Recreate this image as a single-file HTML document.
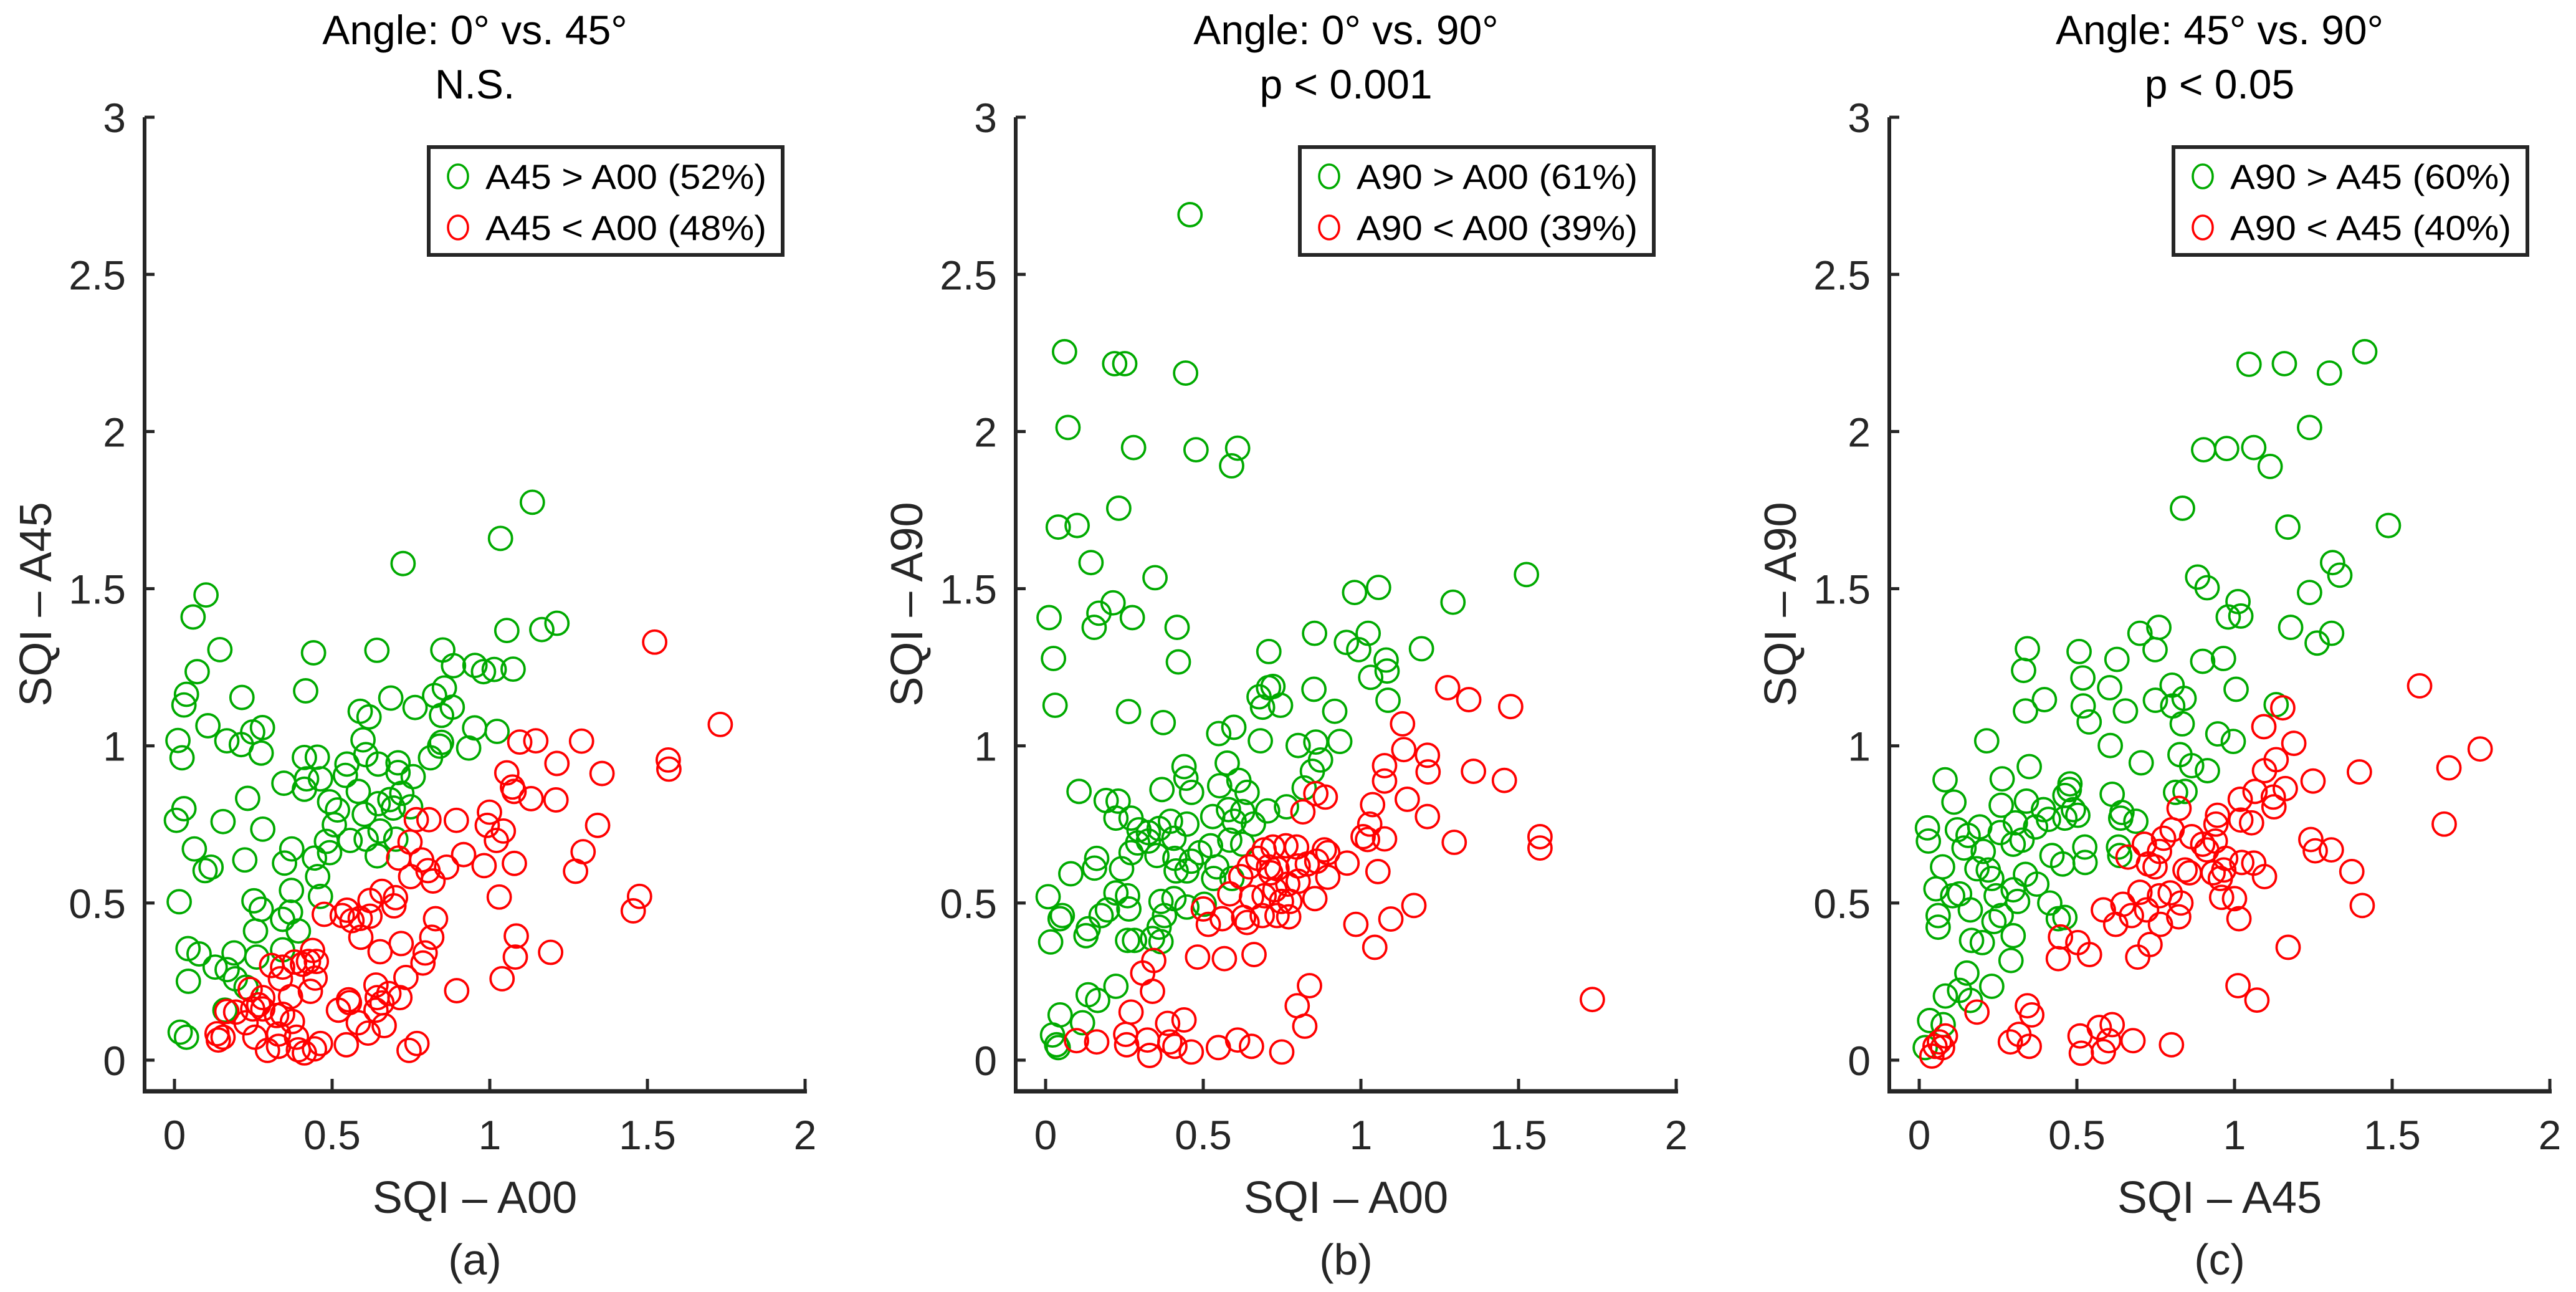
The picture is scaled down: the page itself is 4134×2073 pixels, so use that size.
<!DOCTYPE html>
<html>
<head>
<meta charset="utf-8">
<style>
html,body{margin:0;padding:0;background:#fff;}
svg{display:block;}
text{font-family:"Liberation Sans",Arial,sans-serif;}
</style>
</head>
<body>
<svg id="fig" width="4134" height="2073" viewBox="0 0 4134 2073" xmlns="http://www.w3.org/2000/svg"></svg>
<script>
// ---------------- data ----------------
const xTicks = [0, 0.5, 1, 1.5, 2];
const xTickLabels = ["0", "0.5", "1", "1.5", "2"];
const yTicks = [0, 0.5, 1, 1.5, 2, 2.5, 3];
const yTickLabels = ["0", "0.5", "1", "1.5", "2", "2.5", "3"];

const titles1 = ["Angle: 0° vs. 45°", "Angle: 0° vs. 90°", "Angle: 45° vs. 90°"];
const titles2 = ["N.S.", "p < 0.001", "p < 0.05"];
const xLabels = ["SQI \u2013  A00", "SQI \u2013  A00", "SQI \u2013  A45"];
const yLabels = ["SQI \u2013  A45", "SQI \u2013  A90", "SQI \u2013  A90"];
const captions = ["(a)", "(b)", "(c)"];
const legendGreen = ["A45 > A00 (52%)", "A90 > A00 (61%)", "A90 > A45 (60%)"];
const legendRed = ["A45 < A00 (48%)", "A90 < A00 (39%)", "A90 < A45 (40%)"];

const aGreen = [[1.135,1.775],[1.034,1.66],[0.725,1.58],[0.10,1.48],[0.059,1.41],[1.165,1.37],[1.213,1.39],[1.054,1.367],[0.144,1.306],[0.441,1.296],[0.642,1.304],[0.851,1.305],[0.885,1.255],[0.072,1.236],[0.953,1.256],[0.98,1.236],[1.014,1.243],[1.074,1.244],[0.038,1.164],[0.03,1.13],[0.214,1.154],[0.416,1.175],[0.686,1.152],[0.763,1.122],[0.825,1.16],[0.856,1.184],[0.589,1.11],[0.617,1.092],[0.881,1.123],[0.847,1.097],[0.106,1.064],[0.166,1.016],[0.212,1.004],[0.248,1.044],[0.279,1.058],[0.275,0.977],[0.011,1.017],[0.024,0.962],[0.598,1.019],[0.952,1.057],[1.023,1.046],[0.847,1.011],[0.841,0.999],[0.933,0.993],[0.812,0.962],[0.412,0.963],[0.453,0.964],[0.547,0.942],[0.607,0.972],[0.646,0.942],[0.709,0.946],[0.347,0.881],[0.419,0.895],[0.463,0.895],[0.412,0.862],[0.709,0.915],[0.757,0.902],[0.542,0.906],[0.583,0.855],[0.232,0.833],[0.03,0.80],[0.006,0.763],[0.154,0.759],[0.28,0.735],[0.492,0.822],[0.517,0.796],[0.646,0.816],[0.683,0.829],[0.721,0.849],[0.749,0.806],[0.694,0.802],[0.602,0.782],[0.507,0.749],[0.482,0.696],[0.557,0.699],[0.608,0.703],[0.652,0.729],[0.702,0.703],[0.063,0.672],[0.097,0.603],[0.116,0.614],[0.223,0.637],[0.372,0.672],[0.349,0.627],[0.444,0.643],[0.492,0.66],[0.643,0.65],[0.454,0.584],[0.371,0.54],[0.463,0.521],[0.015,0.504],[0.252,0.507],[0.275,0.48],[0.368,0.471],[0.343,0.448],[0.393,0.411],[0.257,0.411],[0.043,0.355],[0.078,0.338],[0.129,0.296],[0.189,0.341],[0.261,0.328],[0.343,0.351],[0.167,0.288],[0.193,0.259],[0.044,0.251],[0.227,0.232],[0.16,0.159],[0.018,0.089],[0.038,0.073]];
const aRed = [[1.523,1.33],[1.731,1.068],[1.095,1.012],[1.146,1.016],[1.291,1.015],[1.566,0.955],[1.568,0.926],[1.213,0.944],[1.356,0.912],[1.054,0.914],[1.072,0.869],[1.077,0.855],[1.131,0.832],[1.21,0.828],[0.999,0.789],[0.767,0.765],[0.807,0.765],[0.894,0.763],[0.992,0.747],[1.043,0.729],[1.021,0.699],[1.342,0.747],[0.747,0.694],[1.296,0.663],[1.272,0.601],[0.711,0.643],[0.784,0.637],[0.804,0.603],[0.82,0.57],[0.863,0.614],[0.917,0.654],[0.982,0.619],[1.078,0.626],[0.749,0.584],[1.03,0.519],[0.658,0.537],[0.701,0.517],[0.696,0.491],[0.62,0.508],[0.475,0.464],[0.547,0.477],[0.532,0.46],[0.563,0.444],[0.589,0.451],[0.62,0.458],[0.591,0.391],[0.828,0.45],[1.475,0.521],[1.455,0.475],[0.816,0.391],[0.719,0.371],[0.652,0.345],[0.795,0.341],[0.788,0.309],[1.084,0.395],[1.081,0.328],[1.193,0.343],[0.734,0.263],[1.039,0.259],[0.895,0.221],[0.438,0.349],[0.45,0.314],[0.425,0.314],[0.446,0.261],[0.431,0.219],[0.406,0.305],[0.381,0.312],[0.343,0.296],[0.308,0.301],[0.336,0.259],[0.368,0.202],[0.28,0.199],[0.267,0.176],[0.24,0.225],[0.248,0.163],[0.28,0.163],[0.194,0.153],[0.227,0.119],[0.343,0.146],[0.374,0.123],[0.324,0.142],[0.255,0.073],[0.33,0.083],[0.295,0.031],[0.33,0.044],[0.387,0.073],[0.393,0.033],[0.412,0.023],[0.444,0.036],[0.463,0.053],[0.135,0.084],[0.139,0.064],[0.154,0.073],[0.166,0.155],[0.52,0.159],[0.552,0.192],[0.555,0.183],[0.583,0.119],[0.614,0.086],[0.545,0.049],[0.639,0.239],[0.643,0.199],[0.658,0.182],[0.639,0.159],[0.665,0.11],[0.715,0.199],[0.68,0.212],[0.769,0.053],[0.744,0.031]];

const bGreen = [[0.458,2.69],[0.06,2.254],[0.219,2.216],[0.251,2.216],[0.444,2.186],[0.071,2.013],[0.279,1.949],[0.477,1.942],[0.609,1.947],[0.59,1.891],[0.232,1.756],[0.04,1.696],[0.10,1.701],[0.144,1.583],[0.347,1.535],[1.525,1.545],[0.98,1.488],[1.056,1.504],[1.292,1.457],[0.011,1.408],[0.214,1.455],[0.169,1.422],[0.154,1.377],[0.275,1.408],[0.417,1.377],[0.025,1.278],[0.421,1.267],[0.853,1.358],[0.954,1.329],[0.993,1.306],[1.023,1.358],[1.192,1.309],[1.08,1.273],[1.083,1.238],[1.031,1.218],[0.708,1.30],[0.721,1.189],[0.707,1.185],[0.677,1.156],[0.688,1.123],[0.745,1.129],[0.851,1.18],[0.917,1.11],[1.086,1.145],[0.03,1.129],[0.263,1.109],[0.373,1.074],[0.549,1.039],[0.597,1.059],[0.681,1.016],[0.801,1.001],[0.857,1.012],[0.933,1.014],[0.872,0.955],[0.846,0.919],[0.82,0.866],[0.439,0.934],[0.445,0.897],[0.576,0.945],[0.613,0.89],[0.552,0.873],[0.463,0.852],[0.639,0.852],[0.369,0.861],[0.106,0.855],[0.192,0.826],[0.23,0.824],[0.223,0.77],[0.764,0.806],[0.704,0.793],[0.53,0.775],[0.58,0.797],[0.625,0.791],[0.659,0.751],[0.598,0.76],[0.271,0.77],[0.296,0.733],[0.326,0.724],[0.36,0.737],[0.396,0.76],[0.448,0.751],[0.292,0.691],[0.326,0.697],[0.353,0.651],[0.407,0.706],[0.523,0.682],[0.584,0.70],[0.625,0.687],[0.271,0.66],[0.162,0.642],[0.155,0.611],[0.08,0.593],[0.241,0.609],[0.41,0.642],[0.462,0.633],[0.489,0.66],[0.414,0.602],[0.448,0.602],[0.543,0.615],[0.533,0.578],[0.591,0.578],[0.223,0.532],[0.26,0.523],[0.264,0.481],[0.196,0.478],[0.176,0.46],[0.366,0.505],[0.407,0.514],[0.448,0.487],[0.503,0.496],[0.008,0.52],[0.053,0.46],[0.046,0.45],[0.135,0.418],[0.128,0.396],[0.016,0.376],[0.377,0.46],[0.36,0.423],[0.26,0.381],[0.282,0.381],[0.339,0.387],[0.366,0.377],[0.223,0.235],[0.135,0.208],[0.165,0.19],[0.046,0.144],[0.117,0.119],[0.022,0.08],[0.035,0.049],[0.04,0.04]];
const bRed = [[1.275,1.185],[1.342,1.147],[1.475,1.125],[1.132,1.07],[1.136,0.988],[1.211,0.97],[1.213,0.917],[1.357,0.919],[1.455,0.89],[1.075,0.937],[1.075,0.888],[0.857,0.848],[0.887,0.837],[1.147,0.83],[1.037,0.813],[1.211,0.775],[0.816,0.79],[1.028,0.751],[1.007,0.711],[1.021,0.702],[1.075,0.704],[1.296,0.693],[1.568,0.711],[1.568,0.675],[0.693,0.669],[0.721,0.678],[0.762,0.682],[0.796,0.678],[0.884,0.669],[0.895,0.66],[0.673,0.642],[0.707,0.615],[0.714,0.596],[0.734,0.609],[0.801,0.618],[0.83,0.624],[0.86,0.633],[0.956,0.627],[1.054,0.60],[0.646,0.615],[0.619,0.584],[0.801,0.569],[0.895,0.582],[0.693,0.523],[0.653,0.518],[0.727,0.542],[0.768,0.56],[0.748,0.505],[0.775,0.505],[0.854,0.514],[0.584,0.529],[0.50,0.481],[0.516,0.432],[0.56,0.45],[0.628,0.454],[0.639,0.438],[0.687,0.46],[0.734,0.46],[0.771,0.456],[0.984,0.432],[1.095,0.449],[1.168,0.492],[1.044,0.359],[0.482,0.328],[0.567,0.323],[0.661,0.336],[0.343,0.317],[0.308,0.277],[0.339,0.219],[0.837,0.237],[0.798,0.173],[0.822,0.108],[1.734,0.193],[0.271,0.153],[0.387,0.117],[0.439,0.128],[0.254,0.082],[0.257,0.049],[0.098,0.062],[0.162,0.058],[0.323,0.064],[0.33,0.015],[0.394,0.058],[0.41,0.044],[0.462,0.026],[0.548,0.04],[0.609,0.064],[0.653,0.044],[0.749,0.026]];

const cGreen = [[1.413,2.254],[1.046,2.214],[1.158,2.216],[1.301,2.186],[1.238,2.013],[0.902,1.942],[0.975,1.946],[1.061,1.949],[1.113,1.889],[0.835,1.756],[1.169,1.696],[1.488,1.701],[1.311,1.583],[1.334,1.543],[0.883,1.537],[0.913,1.503],[1.238,1.488],[1.011,1.459],[0.98,1.41],[1.02,1.413],[1.178,1.377],[1.262,1.327],[1.308,1.358],[0.70,1.358],[0.76,1.377],[0.748,1.306],[0.899,1.269],[0.965,1.278],[1.005,1.18],[0.343,1.309],[0.331,1.24],[0.507,1.30],[0.627,1.275],[0.519,1.216],[0.604,1.185],[0.802,1.193],[0.84,1.151],[0.749,1.145],[0.804,1.127],[0.834,1.07],[1.132,1.131],[0.397,1.147],[0.337,1.111],[0.52,1.127],[0.539,1.076],[0.654,1.111],[0.214,1.016],[0.606,1.001],[0.947,1.038],[0.996,1.014],[0.827,0.972],[0.864,0.937],[0.914,0.921],[0.704,0.946],[0.349,0.934],[0.082,0.892],[0.263,0.895],[0.11,0.821],[0.26,0.811],[0.34,0.824],[0.478,0.879],[0.476,0.861],[0.462,0.842],[0.394,0.797],[0.489,0.797],[0.462,0.77],[0.503,0.779],[0.612,0.846],[0.643,0.788],[0.639,0.77],[0.687,0.76],[0.813,0.852],[0.843,0.855],[0.026,0.739],[0.029,0.697],[0.121,0.733],[0.155,0.715],[0.192,0.742],[0.142,0.675],[0.203,0.664],[0.257,0.724],[0.305,0.755],[0.326,0.70],[0.298,0.687],[0.369,0.742],[0.41,0.766],[0.074,0.615],[0.183,0.609],[0.219,0.605],[0.23,0.578],[0.337,0.591],[0.421,0.651],[0.455,0.624],[0.525,0.678],[0.526,0.629],[0.632,0.678],[0.636,0.651],[0.053,0.545],[0.106,0.523],[0.128,0.529],[0.162,0.478],[0.244,0.523],[0.298,0.542],[0.312,0.505],[0.373,0.56],[0.414,0.50],[0.06,0.46],[0.06,0.423],[0.237,0.441],[0.26,0.46],[0.441,0.45],[0.462,0.454],[0.298,0.396],[0.166,0.381],[0.20,0.374],[0.291,0.317],[0.151,0.277],[0.23,0.235],[0.128,0.222],[0.083,0.204],[0.162,0.19],[0.033,0.126],[0.076,0.113],[0.019,0.04]];
const cRed = [[1.587,1.191],[1.779,0.99],[1.68,0.93],[1.665,0.751],[1.153,1.121],[1.093,1.061],[1.188,1.008],[1.132,0.956],[1.095,0.921],[1.249,0.888],[1.396,0.917],[1.065,0.855],[1.161,0.864],[1.123,0.837],[1.125,0.806],[1.018,0.83],[1.02,0.764],[1.054,0.755],[0.824,0.801],[0.946,0.779],[0.941,0.751],[0.802,0.733],[0.864,0.711],[0.899,0.687],[0.939,0.697],[0.912,0.669],[0.775,0.706],[0.762,0.664],[0.714,0.687],[0.662,0.646],[0.727,0.624],[0.748,0.615],[0.843,0.605],[0.857,0.596],[0.932,0.596],[0.966,0.605],[0.972,0.642],[1.023,0.629],[1.061,0.627],[1.095,0.584],[1.242,0.702],[1.256,0.666],[1.307,0.669],[1.372,0.60],[1.405,0.492],[0.955,0.578],[0.959,0.518],[1.0,0.514],[1.014,0.45],[0.70,0.534],[0.762,0.523],[0.796,0.532],[0.83,0.50],[0.823,0.456],[0.765,0.432],[0.721,0.478],[0.673,0.46],[0.646,0.496],[0.623,0.432],[0.584,0.478],[0.448,0.392],[0.503,0.374],[0.54,0.336],[0.441,0.323],[0.693,0.328],[0.732,0.368],[1.17,0.359],[1.011,0.237],[1.071,0.191],[0.183,0.153],[0.343,0.173],[0.357,0.144],[0.289,0.058],[0.316,0.082],[0.349,0.044],[0.51,0.077],[0.514,0.022],[0.571,0.104],[0.612,0.113],[0.601,0.062],[0.584,0.027],[0.678,0.062],[0.80,0.049],[0.083,0.077],[0.064,0.058],[0.05,0.044],[0.04,0.013],[0.074,0.04]];

const greenSets = [aGreen, bGreen, cGreen];
const redSets = [aRed, bRed, cRed];

// ---------------- layout ----------------
const NS = "http://www.w3.org/2000/svg";
const svg = document.getElementById("fig");
const panelX0 = [280, 1678, 3080];
const PX_PER_X = 506, PX_PER_Y = 504.3, Y0 = 1701;
const AX_COLOR = "#262626", GREEN = "#00aa00", RED = "#ff0000";
const panelNames = ["a", "b", "c"];

function mk(tag, attrs, parent) {
  const e = document.createElementNS(NS, tag);
  for (const k in attrs) e.setAttribute(k, attrs[k]);
  (parent || svg).appendChild(e);
  return e;
}

for (let p = 0; p < 3; p++) {
  const x0 = panelX0[p];
  const sx = v => x0 + v * PX_PER_X;
  const sy = v => Y0 - v * PX_PER_Y;
  const axLeft = x0 - 48, axRight = sx(2), axBottom = 1751, axTop = sy(3);
  const cx = (axLeft + axRight) / 2;

  const g = mk("g", {});
  
  

  const t1 = mk("text", {x: cx, y: 71, "text-anchor": "middle", "font-size": 66, fill: "#000"}, g);
  t1.textContent = titles1[p];
  
  
  const t2 = mk("text", {x: cx, y: 158, "text-anchor": "middle", "font-size": 66, fill: "#000"}, g);
  t2.textContent = titles2[p];
  
  

  const yAxis = mk("line", {x1: axLeft, y1: axTop, x2: axLeft, y2: axBottom + 3, stroke: AX_COLOR, "stroke-width": 6}, g);
  
  
  const xAxis = mk("line", {x1: axLeft - 3, y1: axBottom, x2: axRight + 3, y2: axBottom, stroke: AX_COLOR, "stroke-width": 7}, g);
  
  

  xTicks.forEach((v, i) => {
    const tk = mk("line", {x1: sx(v), y1: axBottom, x2: sx(v), y2: axBottom - 20, stroke: AX_COLOR, "stroke-width": 5}, g);
    
    
    const tl = mk("text", {x: sx(v), y: 1844, "text-anchor": "middle", "font-size": 66, fill: AX_COLOR}, g);
    tl.textContent = xTickLabels[i];
    
    
  });
  yTicks.forEach((v, i) => {
    const tk = mk("line", {x1: axLeft, y1: sy(v), x2: axLeft + 16, y2: sy(v), stroke: AX_COLOR, "stroke-width": 5}, g);
    
    
    const tl = mk("text", {x: axLeft - 30, y: sy(v) + 24, "text-anchor": "end", "font-size": 66, fill: AX_COLOR}, g);
    tl.textContent = yTickLabels[i];
    
    
  });

  const xl = mk("text", {x: cx, y: 1946, "text-anchor": "middle", "font-size": 72, fill: AX_COLOR}, g);
  xl.textContent = xLabels[p];
  
  
  const ylx = axLeft - 150, yly = (axTop + axBottom) / 2;
  const yl = mk("text", {x: ylx, y: yly, "text-anchor": "middle", "font-size": 72, fill: AX_COLOR, transform: `rotate(-90 ${ylx} ${yly})`}, g);
  yl.textContent = yLabels[p];
  
  
  const cap = mk("text", {x: cx, y: 2045, "text-anchor": "middle", "font-size": 70, fill: AX_COLOR}, g);
  cap.textContent = captions[p];
  
  

  const drawSet = (pts, color, name) => {
    const sg = mk("g", {}, g);
    
    
    pts.forEach(pt => {
      const c = mk("circle", {cx: sx(pt[0]), cy: sy(pt[1]), r: 18.5, fill: "none", stroke: color, "stroke-width": 3.8}, sg);
      
      
    });
  };
  drawSet(greenSets[p], GREEN, "increase");
  drawSet(redSets[p], RED, "decrease");

  const lg = mk("g", {}, g);
  
  
  const lb = mk("rect", {x: x0 + 408, y: 236, width: 568, height: 173, fill: "#fff", stroke: AX_COLOR, "stroke-width": 6}, lg);
  
  
  [[legendGreen[p], GREEN, 283], [legendRed[p], RED, 365]].forEach(e => {
    const m = mk("ellipse", {cx: x0 + 455, cy: e[2], rx: 16, ry: 19, fill: "none", stroke: e[1], "stroke-width": 3.6}, lg);
    
    
    const t = mk("text", {x: x0 + 499, y: e[2] + 20, "font-size": 56, fill: "#000", textLength: 451, lengthAdjust: "spacingAndGlyphs"}, lg);
    t.textContent = e[0];
    
    
  });
}
</script>
</body>
</html>
